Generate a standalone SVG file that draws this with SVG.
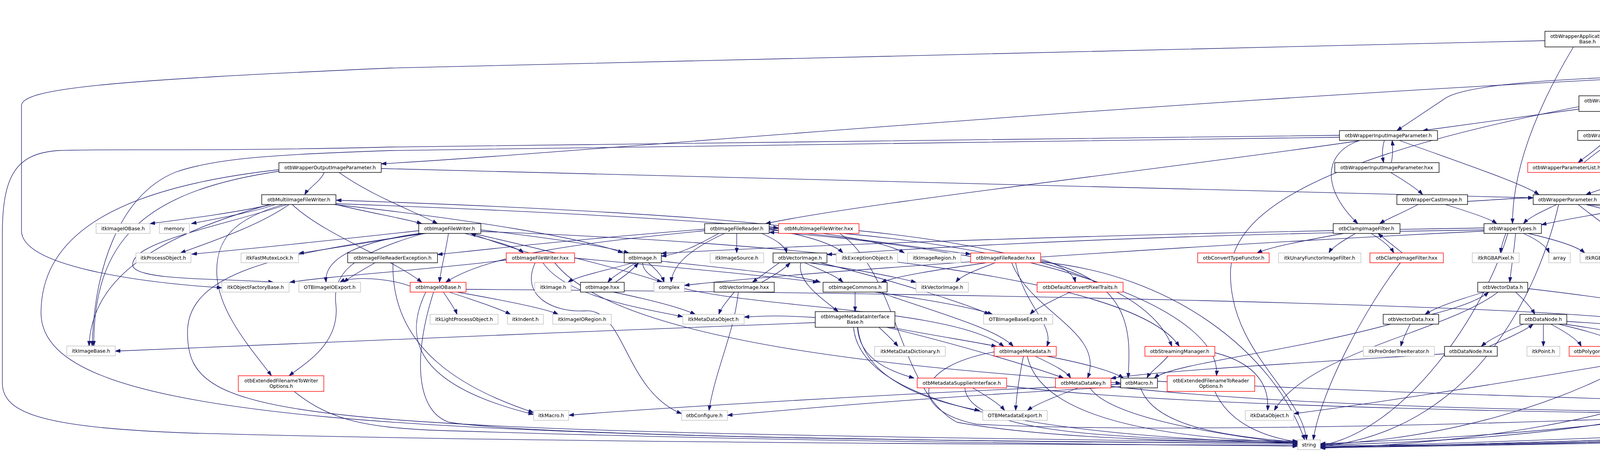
<svg xmlns="http://www.w3.org/2000/svg" width="5807" height="1156" viewBox="0 0 5807 1156">
<defs>
<marker id="a" markerUnits="userSpaceOnUse" markerWidth="14" markerHeight="10" refX="13" refY="4.5" orient="auto"><path d="M0,0 L13,4.5 L0,9 z" fill="#191970" stroke="#191970" stroke-width="1"/></marker>
<style>
.nd rect{fill:#fff;stroke-width:1.4}
.k rect{stroke:#000}
.g rect{stroke:#bfbfbf}
.r rect{stroke:#ff0000}
#n_root rect{fill:#bfbfbf;stroke:#000}
.nd text{font-family:"DejaVu Sans","Liberation Sans",sans-serif;font-size:12.6px;text-anchor:middle;fill:#000}
#edges path{fill:none;stroke:#191970;stroke-width:1.3;marker-end:url(#a)}
</style>
</defs>
<rect width="5807" height="1156" fill="#fff"/>
<g id="edges">
<path d="M5540,20 C5000,45 4600,70 4173,92"/>
<path d="M5672,31 C5672,60 5732,60 5736,88"/>
<path d="M5654,31 L5654,880 C5654,1000 5300,1090 4800,1110 C4200,1130 3700,1143 3380,1143"/>
<path d="M4160,120 C4300,140 4420,158 4505,170"/>
<path d="M3955,104 L1000,174 C300,205 55,225 55,270 L55,590 C55,680 350,722 568,736"/>
<path d="M4028,120 C3920,300 3872,450 3872,572"/>
<path d="M4545,195 C4420,215 4320,232 4242,245"/>
<path d="M4600,195 C4620,220 4640,235 4652,252"/>
<path d="M4630,195 C4700,220 4760,236 4785,252"/>
<path d="M4655,195 C4760,215 4850,232 4893,244"/>
<path d="M4676,184 C4900,200 5080,230 5140,252"/>
<path d="M5165,252 C5080,225 4900,200 4677,192"/>
<path d="M4676,180 C5000,190 5300,220 5372,252"/>
<path d="M4578,195 C4580,260 4595,300 4598,334"/>
<path d="M4565,195 C4500,300 4560,420 4705,498"/>
<path d="M4555,195 C4460,300 4445,450 4444,572"/>
<path d="M4493,188 C4000,196 3760,215 3702,250 L3576,334"/>
<path d="M4493,185 C3000,250 1500,390 976,419"/>
<path d="M4625,195 C4680,290 4900,370 5150,416"/>
<path d="M4676,178 C5300,192 5590,220 5590,340 L5590,720 C5590,800 5555,850 5545,886"/>
<path d="M4676,176 C5400,186 5704,240 5704,420 L5704,890 C5704,980 5640,1010 5628,1050"/>
<path d="M4500,195 C3600,330 3150,480 3150,700 C3150,900 3330,1000 3345,1125"/>
<path d="M4140,285 L4140,334"/>
<path d="M4042,279 L3642,334"/>
<path d="M3544,359 C3538,380 3538,395 3542,416"/>
<path d="M3562,416 C3566,395 3566,380 3564,359"/>
<path d="M3479,360 C3390,390 3380,480 3476,572"/>
<path d="M3582,359 C3750,420 3900,470 3940,498"/>
<path d="M3480,360 C3000,430 2200,520 1960,572"/>
<path d="M3429,346 L1000,376 C500,388 300,380 150,385 C40,392 6,450 6,600 L6,980 C6,1060 120,1095 500,1108 C1500,1135 3000,1138 3322,1138"/>
<path d="M3429,351 L1000,385 C700,395 550,405 450,440 C300,500 240,700 236,885"/>
<path d="M4110,359 C4090,380 4060,400 4040,416"/>
<path d="M4055,416 C4075,398 4105,378 4130,359"/>
<path d="M4165,359 C4190,380 4215,395 4225,408"/>
<path d="M4225,359 C4400,395 4440,440 4340,498"/>
<path d="M4210,448 C4150,470 4090,485 4060,498"/>
<path d="M4290,448 C4300,465 4308,480 4310,498"/>
<path d="M830,441 C820,465 790,480 780,498"/>
<path d="M868,441 C950,500 1060,540 1120,572"/>
<path d="M976,431 C2000,455 3000,485 3925,506"/>
<path d="M714,438 C360,490 240,620 240,885"/>
<path d="M714,434 C300,480 105,600 105,800 C105,1080 1000,1120 3322,1134"/>
<path d="M695,523 C600,545 460,562 384,572"/>
<path d="M705,523 C640,545 540,562 490,572"/>
<path d="M740,523 C660,580 520,625 462,647"/>
<path d="M860,521 C1400,540 1800,565 1993,583"/>
<path d="M1993,577 C1800,555 1400,530 861,512"/>
<path d="M748,523 C830,600 1000,660 1080,722"/>
<path d="M725,523 C600,560 552,610 555,700 C558,800 650,900 695,961"/>
<path d="M735,523 C560,580 330,620 340,680 C350,720 600,712 700,722"/>
<path d="M690,523 C420,600 235,700 228,885"/>
<path d="M860,523 C950,545 1040,560 1080,572"/>
<path d="M855,523 C1200,560 1500,610 1595,647"/>
<path d="M1190,597 C1260,615 1320,630 1340,647"/>
<path d="M1355,647 C1300,630 1240,610 1205,597"/>
<path d="M1148,597 C1140,650 1128,690 1125,722"/>
<path d="M1072,590 C800,620 600,640 491,650"/>
<path d="M1080,597 C950,620 850,635 765,648"/>
<path d="M1075,597 C870,625 830,680 835,722"/>
<path d="M1231,588 C1400,608 1550,630 1610,647"/>
<path d="M1210,597 C1400,640 1600,690 1695,722"/>
<path d="M1085,597 C900,650 850,700 860,780 C870,880 780,930 740,961"/>
<path d="M1090,597 C700,650 480,700 480,850 C480,1080 700,1100 3322,1132"/>
<path d="M1231,592 C2000,620 2900,700 3019,886"/>
<path d="M1969,588 C2200,608 2400,640 2485,650"/>
<path d="M2485,656 C2300,624 2100,600 1969,594"/>
<path d="M1886,597 L1886,647"/>
<path d="M1840,597 C1780,630 1740,650 1693,655"/>
<path d="M1804,586 C1500,610 1300,632 1120,651"/>
<path d="M1804,590 C1500,620 1250,650 1141,722"/>
<path d="M1855,597 C1760,640 1722,680 1718,722"/>
<path d="M1969,585 C2050,600 2130,620 2158,647"/>
<path d="M1969,580 C2150,600 2270,620 2315,647"/>
<path d="M1969,584 C2700,620 3130,800 3114,961"/>
<path d="M1950,597 C1990,615 2010,630 2014,647"/>
<path d="M2199,590 C2700,640 2950,750 3000,886"/>
<path d="M2150,597 C2300,700 2300,1000 2450,1080 C2700,1125 3100,1130 3322,1131"/>
<path d="M2525,672 C2400,690 2300,705 2256,722"/>
<path d="M2548,672 C2500,690 2460,705 2447,722"/>
<path d="M2600,672 C2620,780 2700,830 2680,886"/>
<path d="M2590,672 C2640,800 2830,850 2784,967"/>
<path d="M2664,662 C2720,680 2748,700 2753,722"/>
<path d="M2664,666 C2900,720 2895,850 2888,967"/>
<path d="M2664,670 C3000,700 3260,900 3340,1125"/>
<path d="M1620,672 C1560,690 1480,705 1454,722"/>
<path d="M1628,672 C1600,690 1570,705 1556,722"/>
<path d="M1575,722 C1600,705 1620,690 1634,672"/>
<path d="M1660,672 C1680,690 1695,705 1700,722"/>
<path d="M1693,668 C1900,690 2050,705 2100,722"/>
<path d="M1645,672 C1650,800 2400,760 2570,886"/>
<path d="M1570,747 C1680,770 1750,790 1780,804"/>
<path d="M2072,672 C2200,690 2300,710 2345,722"/>
<path d="M1995,672 C1970,690 1950,705 1926,722"/>
<path d="M1950,722 C1980,705 2005,690 2023,672"/>
<path d="M2060,672 C2100,690 2140,705 2158,722"/>
<path d="M2050,672 C2040,720 2100,760 2146,797"/>
<path d="M2100,672 C2300,720 2480,780 2533,804"/>
<path d="M1880,747 C1860,770 1845,790 1840,804"/>
<path d="M1890,747 C1880,850 1830,950 1815,1050"/>
<path d="M2189,747 L2189,797"/>
<path d="M2240,747 C2400,770 2500,790 2541,804"/>
<path d="M2250,747 C2400,800 2550,840 2594,886"/>
<path d="M2250,837 C2275,860 2290,875 2299,886"/>
<path d="M2280,837 C2400,860 2500,875 2551,886"/>
<path d="M2195,837 C2200,920 2280,950 2340,967"/>
<path d="M2270,837 C2450,880 2650,940 2723,967"/>
<path d="M2196,837 C2210,980 2400,1030 2508,1050"/>
<path d="M2185,837 C2200,1000 2500,1110 3322,1134"/>
<path d="M2087,825 C1500,850 800,872 295,898"/>
<path d="M2087,812 C2000,806 1950,808 1905,811"/>
<path d="M2650,911 C2700,935 2730,950 2741,967"/>
<path d="M2680,911 C2780,930 2850,950 2876,967"/>
<path d="M2620,911 C2610,960 2602,1010 2600,1050"/>
<path d="M2630,911 C2660,1050 2900,1120 3322,1131"/>
<path d="M2545,900 C2330,940 2330,1050 2500,1085 C3000,1110 4000,1080 4355,1062"/>
<path d="M2490,992 C2530,1015 2560,1035 2572,1050"/>
<path d="M2470,992 C2480,1100 2800,1125 3322,1128"/>
<path d="M2577,987 C3000,1040 4000,1055 4355,1058"/>
<path d="M2760,992 C2700,1015 2650,1035 2630,1050"/>
<path d="M2790,992 C2850,1080 3200,1120 3322,1136"/>
<path d="M2844,988 C3300,1040 4000,1050 4355,1055"/>
<path d="M2869,983 C2200,1010 1600,1050 1456,1062"/>
<path d="M2869,989 C2300,1020 1950,1055 1862,1062"/>
<path d="M2920,992 C2950,1080 3100,1115 3322,1130"/>
<path d="M2963,975 C3800,1020 5000,1040 5551,1062"/>
<path d="M2990,911 C2970,935 2945,950 2936,967"/>
<path d="M3110,902 C3220,930 3250,990 3245,1050"/>
<path d="M3110,1001 C3150,1090 3250,1120 3322,1130"/>
<path d="M753,1001 C850,1080 950,1092 1100,1100 C2000,1130 3000,1138 3322,1141"/>
<path d="M960,672 C930,690 900,705 880,722"/>
<path d="M1006,672 C1000,900 1200,1000 1366,1055"/>
<path d="M1135,747 C1150,770 1165,790 1170,804"/>
<path d="M1150,747 C1220,770 1280,790 1307,804"/>
<path d="M1170,747 C1300,770 1400,790 1429,804"/>
<path d="M1110,747 C1060,900 1060,1050 1150,1080 C1400,1120 2800,1132 3322,1134"/>
<path d="M1090,747 C1040,850 1040,980 1366,1060"/>
<path d="M1193,740 C2500,750 3900,780 4200,820 C4420,860 4400,950 4395,1050"/>
<path d="M1050,732 C1000,712 900,705 870,722"/>
<path d="M1370,672 C1330,760 1420,800 1500,795 C1600,790 1600,1000 1745,1058"/>
<path d="M1390,672 C1450,760 1650,790 1748,810"/>
<path d="M1471,660 C1800,690 2000,710 2094,722"/>
<path d="M1420,672 C1600,900 2500,950 2869,980"/>
<path d="M1296,665 C1100,690 850,705 742,722"/>
<path d="M2740,747 C2690,770 2650,790 2637,804"/>
<path d="M3440,597 C3340,615 3250,632 3218,647"/>
<path d="M3470,597 C3440,615 3410,632 3402,647"/>
<path d="M3510,597 C3540,615 3560,632 3568,647"/>
<path d="M3590,647 C3570,630 3545,612 3528,597"/>
<path d="M3585,672 C3500,780 3380,1000 3362,1125"/>
<path d="M3900,597 C3940,615 3960,632 3966,647"/>
<path d="M3912,597 C3990,615 4040,632 4057,647"/>
<path d="M3855,597 C3848,615 3843,632 3841,647"/>
<path d="M3880,597 C3875,650 3868,690 3865,722"/>
<path d="M3799,583 C3000,595 2200,620 1693,648"/>
<path d="M3799,588 C3000,600 2500,625 2117,651"/>
<path d="M3799,591 C3000,630 2000,700 1752,730"/>
<path d="M3860,597 C3800,800 3600,1100 3380,1140"/>
<path d="M3800,747 C3720,770 3670,790 3648,804"/>
<path d="M3665,804 C3740,785 3790,765 3811,747"/>
<path d="M3880,747 C3905,770 3922,790 3929,804"/>
<path d="M3911,738 C4100,760 4270,785 4325,804"/>
<path d="M3835,747 C3700,850 3350,900 3262,1050"/>
<path d="M3610,829 C3600,850 3590,870 3586,886"/>
<path d="M3560,829 C3300,900 3000,930 2955,967"/>
<path d="M3900,829 C3850,850 3810,870 3792,886"/>
<path d="M3812,886 C3860,865 3905,845 3925,829"/>
<path d="M3951,829 L3951,886"/>
<path d="M3970,829 C4010,850 4040,870 4048,886"/>
<path d="M3990,829 C4080,850 4140,870 4159,886"/>
<path d="M4005,829 C4150,850 4250,870 4279,886"/>
<path d="M4011,822 C4300,840 4550,870 4628,890"/>
<path d="M3698,905 C3300,930 2950,950 2844,968"/>
<path d="M4281,905 C3800,990 3450,1040 3312,1058"/>
<path d="M4370,911 C4420,935 4450,950 4462,967"/>
<path d="M4345,911 C4360,970 4375,1010 4379,1050"/>
<path d="M4690,911 C4600,935 4550,950 4532,967"/>
<path d="M4700,911 C4640,1000 4500,1050 4417,1060"/>
<path d="M4720,911 C4650,1050 4000,1110 3380,1135"/>
<path d="M4330,523 C4380,540 4405,555 4414,572"/>
<path d="M4240,523 C4100,545 4000,562 3946,575"/>
<path d="M4420,515 C4600,560 4600,700 4560,900 C4500,1080 3800,1130 3380,1138"/>
<path d="M3985,523 C3950,540 3915,555 3900,572"/>
<path d="M4060,523 C4250,540 4350,555 4390,572"/>
<path d="M4060,523 C4200,560 4850,700 4945,850 C5000,950 5060,1000 5070,1050"/>
<path d="M3990,523 C3950,700 3800,1100 3380,1142"/>
<path d="M4040,523 C4200,650 4450,800 4480,967"/>
<path d="M4700,523 C4620,540 4550,555 4520,572"/>
<path d="M4800,523 C4840,540 4870,555 4880,572"/>
<path d="M4740,523 C4720,800 4600,1000 4417,1052"/>
<path d="M4760,523 C4780,900 4200,1120 3380,1146"/>
<path d="M4730,523 C4650,700 4520,900 4505,967"/>
<path d="M5108,432 C4700,460 4300,490 4101,504"/>
<path d="M5210,441 C5180,700 5130,900 5093,1050"/>
<path d="M5222,441 C5225,800 5200,1000 4800,1100 C4300,1130 3700,1140 3380,1140"/>
<path d="M5195,441 C5130,600 4800,900 4562,975"/>
<path d="M5250,359 C5240,385 5232,400 5227,416"/>
<path d="M5282,359 C5360,420 5362,500 5362,700 L5362,960 C5362,1040 5000,1100 3380,1143"/>
<path d="M5420,277 C5360,300 5310,320 5294,334"/>
<path d="M5442,277 C5420,400 5412,500 5412,700 L5412,960 C5412,1060 5000,1110 3380,1145"/>
<path d="M4620,359 C4620,700 4450,900 4400,1050"/>
<path d="M4600,359 C4600,800 4000,1110 3380,1137"/>
<path d="M3560,441 C3600,465 3630,485 3642,498"/>
<path d="M3630,523 C3590,545 3550,560 3532,572"/>
<path d="M3700,523 C3770,545 3815,560 3832,572"/>
<path d="M3757,515 C3850,510 3880,506 3925,506"/>
<path d="M5500,911 C5420,935 5360,955 5332,967"/>
<path d="M5533,911 L5533,967"/>
<path d="M5545,911 C5600,1000 5690,1080 5707,1125"/>
<path d="M5525,911 C5495,960 5495,1020 5480,1060 C5400,1110 4500,1130 3380,1145"/>
<path d="M5575,1075 C5520,1095 5480,1110 5466,1125"/>
<path d="M5595,1075 C5585,1095 5578,1110 5576,1125"/>
<path d="M5620,1075 C5660,1095 5685,1110 5692,1125"/>
<path d="M5551,1071 C5000,1100 4000,1130 3380,1146"/>
</g>
<g id="n_root" class="nd k"><rect x="5540" y="6" width="228" height="25"/><text x="5654" y="23">otbWrapperApplicationFactory.h</text></g>
<g id="n_itkVersion" class="nd g"><rect x="5692" y="88" width="98" height="25"/><text x="5741" y="105">itkVersion.h</text></g>
<g id="n_appFactoryBase" class="nd k"><rect x="3955" y="80" width="218" height="40"/><text x="4064" y="96.5">otbWrapperApplicationFactory<tspan x="4064" y="111">Base.h</tspan></text></g>
<g id="n_app" class="nd k"><rect x="4493" y="170" width="183" height="25"/><text x="4584" y="187">otbWrapperApplication.h</text></g>
<g id="n_inImgList" class="nd k"><rect x="4042" y="245" width="195" height="40"/><text x="4140" y="261.5">otbWrapperInputImageList<tspan x="4140" y="276">Parameter.h</tspan></text></g>
<g id="n_set" class="nd g"><rect x="4647" y="252" width="42" height="25"/><text x="4668" y="269">set</text></g>
<g id="n_macros" class="nd k"><rect x="4713" y="252" width="158" height="25"/><text x="4792" y="269">otbWrapperMacros.h</text></g>
<g id="n_mersenne" class="nd g"><rect x="4894" y="245" width="203" height="40"/><text x="4996" y="261.5">itkMersenneTwisterRandom<tspan x="4996" y="276">VariateGenerator.h</tspan></text></g>
<g id="n_appHxx" class="nd k"><rect x="5121" y="252" width="200" height="25"/><text x="5221" y="269">otbWrapperApplication.hxx</text></g>
<g id="n_field" class="nd k"><rect x="5345" y="252" width="206" height="25"/><text x="5448" y="269">otbWrapperFieldParameter.h</text></g>
<g id="n_inImg" class="nd k"><rect x="3429" y="334" width="251" height="25"/><text x="3554" y="351">otbWrapperInputImageParameter.h</text></g>
<g id="n_paramList" class="nd k"><rect x="4039" y="334" width="201" height="25"/><text x="4140" y="351">otbWrapperParameterList.h</text></g>
<g id="n_tags" class="nd k"><rect x="4545" y="334" width="139" height="25"/><text x="4614" y="351">otbWrapperTags.h</text></g>
<g id="n_listView" class="nd k"><rect x="5143" y="334" width="231" height="25"/><text x="5258" y="351">otbWrapperListViewParameter.h</text></g>
<g id="n_outImg" class="nd k"><rect x="714" y="416" width="262" height="25"/><text x="845" y="433">otbWrapperOutputImageParameter.h</text></g>
<g id="n_inImgHxx" class="nd k"><rect x="3417" y="416" width="267" height="25"/><text x="3550" y="433">otbWrapperInputImageParameter.hxx</text></g>
<g id="n_paramListHxx" class="nd r"><rect x="3911" y="416" width="215" height="25"/><text x="4018" y="433">otbWrapperParameterList.hxx</text></g>
<g id="n_absParamList" class="nd k"><rect x="4150" y="408" width="219" height="40"/><text x="4260" y="424.5">otbWrapperAbstractParameter<tspan x="4260" y="439">List.h</tspan></text></g>
<g id="n_paramGroup" class="nd k"><rect x="5108" y="416" width="216" height="25"/><text x="5216" y="433">otbWrapperParameterGroup.h</text></g>
<g id="n_multiWriter" class="nd k"><rect x="670" y="498" width="190" height="25"/><text x="765" y="515">otbMultiImageFileWriter.h</text></g>
<g id="n_castImage" class="nd k"><rect x="3576" y="498" width="181" height="25"/><text x="3666" y="515">otbWrapperCastImage.h</text></g>
<g id="n_param" class="nd k"><rect x="3925" y="498" width="176" height="25"/><text x="4013" y="515">otbWrapperParameter.h</text></g>
<g id="n_strList" class="nd k"><rect x="4191" y="498" width="229" height="25"/><text x="4305" y="515">otbWrapperStringListInterface.h</text></g>
<g id="n_docEx" class="nd k"><rect x="4615" y="498" width="251" height="25"/><text x="4740" y="515">otbWrapperDocExampleStructure.h</text></g>
<g id="n_itkImageIOBase" class="nd g"><rect x="246" y="572" width="138" height="25"/><text x="315" y="589">itkImageIOBase.h</text></g>
<g id="n_memory" class="nd g"><rect x="408" y="572" width="77" height="25"/><text x="446" y="589">memory</text></g>
<g id="n_imgWriter" class="nd k"><rect x="1072" y="572" width="159" height="25"/><text x="1151" y="589">otbImageFileWriter.h</text></g>
<g id="n_imgReader" class="nd k"><rect x="1804" y="572" width="165" height="25"/><text x="1886" y="589">otbImageFileReader.h</text></g>
<g id="n_multiWriterHxx" class="nd r"><rect x="1993" y="572" width="206" height="25"/><text x="2096" y="589">otbMultiImageFileWriter.hxx</text></g>
<g id="n_clamp" class="nd k"><rect x="3413" y="572" width="171" height="25"/><text x="3498" y="589">otbClampImageFilter.h</text></g>
<g id="n_types" class="nd k"><rect x="3799" y="572" width="147" height="25"/><text x="3872" y="589">otbWrapperTypes.h</text></g>
<g id="n_appEngExport" class="nd g"><rect x="4333" y="572" width="219" height="25"/><text x="4442" y="589">OTBApplicationEngineExport.h</text></g>
<g id="n_fixedArray" class="nd g"><rect x="4863" y="572" width="118" height="25"/><text x="4922" y="589">itkFixedArray.h</text></g>
<g id="n_processObject" class="nd g"><rect x="348" y="647" width="141" height="25"/><text x="418" y="664">itkProcessObject.h</text></g>
<g id="n_fastMutex" class="nd g"><rect x="617" y="647" width="147" height="25"/><text x="690" y="664">itkFastMutexLock.h</text></g>
<g id="n_readerExc" class="nd k"><rect x="890" y="647" width="230" height="25"/><text x="1005" y="664">otbImageFileReaderException.h</text></g>
<g id="n_writerHxx" class="nd r"><rect x="1296" y="647" width="175" height="25"/><text x="1383" y="664">otbImageFileWriter.hxx</text></g>
<g id="n_otbImage" class="nd k"><rect x="1598" y="647" width="95" height="25"/><text x="1645" y="664">otbImage.h</text></g>
<g id="n_imageSource" class="nd g"><rect x="1818" y="647" width="137" height="25"/><text x="1886" y="664">itkImageSource.h</text></g>
<g id="n_vectorImage" class="nd k"><rect x="1979" y="647" width="138" height="25"/><text x="2048" y="664">otbVectorImage.h</text></g>
<g id="n_exceptionObject" class="nd g"><rect x="2141" y="647" width="157" height="25"/><text x="2220" y="664">itkExceptionObject.h</text></g>
<g id="n_imageRegion" class="nd g"><rect x="2323" y="647" width="137" height="25"/><text x="2392" y="664">itkImageRegion.h</text></g>
<g id="n_readerHxx" class="nd r"><rect x="2485" y="647" width="179" height="25"/><text x="2574" y="664">otbImageFileReader.hxx</text></g>
<g id="n_convertType" class="nd r"><rect x="3066" y="647" width="183" height="25"/><text x="3158" y="664">otbConvertTypeFunctor.h</text></g>
<g id="n_unaryFunctor" class="nd g"><rect x="3273" y="647" width="211" height="25"/><text x="3378" y="664">itkUnaryFunctorImageFilter.h</text></g>
<g id="n_clampHxx" class="nd r"><rect x="3507" y="647" width="188" height="25"/><text x="3601" y="664">otbClampImageFilter.hxx</text></g>
<g id="n_rgba" class="nd g"><rect x="3769" y="647" width="120" height="25"/><text x="3829" y="664">itkRGBAPixel.h</text></g>
<g id="n_array" class="nd g"><rect x="3965" y="647" width="55" height="25"/><text x="3992" y="664">array</text></g>
<g id="n_rgb" class="nd g"><rect x="4045" y="647" width="110" height="25"/><text x="4100" y="664">itkRGBPixel.h</text></g>
<g id="n_objFactoryBase" class="nd g"><rect x="568" y="722" width="172" height="25"/><text x="654" y="739">itkObjectFactoryBase.h</text></g>
<g id="n_ioExport" class="nd g"><rect x="765" y="722" width="158" height="25"/><text x="844" y="739">OTBImageIOExport.h</text></g>
<g id="n_otbImageIOBase" class="nd r"><rect x="1050" y="722" width="143" height="25"/><text x="1122" y="739">otbImageIOBase.h</text></g>
<g id="n_itkImage" class="nd g"><rect x="1369" y="722" width="93" height="25"/><text x="1416" y="739">itkImage.h</text></g>
<g id="n_otbImageHxx" class="nd k"><rect x="1486" y="722" width="112" height="25"/><text x="1542" y="739">otbImage.hxx</text></g>
<g id="n_complex" class="nd g"><rect x="1674" y="722" width="78" height="25"/><text x="1713" y="739">complex</text></g>
<g id="n_vecImgHxx" class="nd k"><rect x="1828" y="722" width="154" height="25"/><text x="1905" y="739">otbVectorImage.hxx</text></g>
<g id="n_imgCommons" class="nd k"><rect x="2107" y="722" width="164" height="25"/><text x="2189" y="739">otbImageCommons.h</text></g>
<g id="n_itkVecImg" class="nd g"><rect x="2345" y="722" width="134" height="25"/><text x="2412" y="739">itkVectorImage.h</text></g>
<g id="n_defConv" class="nd r"><rect x="2655" y="722" width="220" height="25"/><text x="2765" y="739">otbDefaultConvertPixelTraits.h</text></g>
<g id="n_vectorData" class="nd k"><rect x="3783" y="722" width="128" height="25"/><text x="3847" y="739">otbVectorData.h</text></g>
<g id="n_lightPO" class="nd g"><rect x="1101" y="804" width="174" height="25"/><text x="1188" y="821">itkLightProcessObject.h</text></g>
<g id="n_indent" class="nd g"><rect x="1299" y="804" width="92" height="25"/><text x="1345" y="821">itkIndent.h</text></g>
<g id="n_ioRegion" class="nd g"><rect x="1415" y="804" width="150" height="25"/><text x="1490" y="821">itkImageIORegion.h</text></g>
<g id="n_metaDataObject" class="nd g"><rect x="1748" y="804" width="157" height="25"/><text x="1826" y="821">itkMetaDataObject.h</text></g>
<g id="n_imiBase" class="nd k"><rect x="2087" y="797" width="204" height="40"/><text x="2189" y="813.5">otbImageMetadataInterface<tspan x="2189" y="828">Base.h</tspan></text></g>
<g id="n_imgBaseExport" class="nd g"><rect x="2518" y="804" width="177" height="25"/><text x="2606" y="821">OTBImageBaseExport.h</text></g>
<g id="n_vecDataHxx" class="nd k"><rect x="3541" y="804" width="142" height="25"/><text x="3612" y="821">otbVectorData.hxx</text></g>
<g id="n_dataNode" class="nd k"><rect x="3891" y="804" width="120" height="25"/><text x="3951" y="821">otbDataNode.h</text></g>
<g id="n_treeContainer" class="nd g"><rect x="4311" y="804" width="140" height="25"/><text x="4381" y="821">itkTreeContainer.h</text></g>
<g id="n_imageBase" class="nd g"><rect x="171" y="885" width="124" height="25"/><text x="233" y="902">itkImageBase.h</text></g>
<g id="n_mdDict" class="nd g"><rect x="2239" y="886" width="181" height="25"/><text x="2330" y="903">itkMetaDataDictionary.h</text></g>
<g id="n_imgMetadata" class="nd r"><rect x="2545" y="886" width="159" height="25"/><text x="2624" y="903">otbImageMetadata.h</text></g>
<g id="n_streaming" class="nd r"><rect x="2931" y="886" width="179" height="25"/><text x="3020" y="903">otbStreamingManager.h</text></g>
<g id="n_preOrder" class="nd g"><rect x="3490" y="886" width="182" height="25"/><text x="3581" y="903">itkPreOrderTreeIterator.h</text></g>
<g id="n_dataNodeHxx" class="nd k"><rect x="3698" y="886" width="135" height="25"/><text x="3765" y="903">otbDataNode.hxx</text></g>
<g id="n_point" class="nd g"><rect x="3909" y="886" width="84" height="25"/><text x="3951" y="903">itkPoint.h</text></g>
<g id="n_polygon" class="nd r"><rect x="4017" y="886" width="107" height="25"/><text x="4070" y="903">otbPolygon.h</text></g>
<g id="n_ogrsf" class="nd g"><rect x="4148" y="886" width="109" height="25"/><text x="4202" y="903">ogrsf_frmts.h</text></g>
<g id="n_objectList" class="nd r"><rect x="4281" y="886" width="120" height="25"/><text x="4341" y="903">otbObjectList.h</text></g>
<g id="n_vdKwl" class="nd r"><rect x="4628" y="886" width="203" height="25"/><text x="4730" y="903">otbVectorDataKeywordlist.h</text></g>
<g id="n_stopwatch" class="nd k"><rect x="5472" y="886" width="122" height="25"/><text x="5533" y="903">otbStopwatch.h</text></g>
<g id="n_extWriter" class="nd r"><rect x="610" y="961" width="219" height="40"/><text x="720" y="977.5">otbExtendedFilenameToWriter<tspan x="720" y="992">Options.h</tspan></text></g>
<g id="n_mdSupplier" class="nd r"><rect x="2348" y="967" width="229" height="25"/><text x="2462" y="984">otbMetadataSupplierInterface.h</text></g>
<g id="n_mdKey" class="nd r"><rect x="2702" y="967" width="142" height="25"/><text x="2773" y="984">otbMetaDataKey.h</text></g>
<g id="n_otbMacro" class="nd k"><rect x="2869" y="967" width="94" height="25"/><text x="2916" y="984">otbMacro.h</text></g>
<g id="n_extReader" class="nd r"><rect x="2988" y="961" width="224" height="40"/><text x="3100" y="977.5">otbExtendedFilenameToReader<tspan x="3100" y="992">Options.h</tspan></text></g>
<g id="n_objFactory" class="nd g"><rect x="4423" y="967" width="139" height="25"/><text x="4492" y="984">itkObjectFactory.h</text></g>
<g id="n_iosfwd" class="nd g"><rect x="5260" y="967" width="64" height="25"/><text x="5292" y="984">iosfwd</text></g>
<g id="n_cstdint" class="nd g"><rect x="5500" y="967" width="66" height="25"/><text x="5533" y="984">cstdint</text></g>
<g id="n_itkMacro" class="nd g"><rect x="1366" y="1050" width="90" height="25"/><text x="1411" y="1067">itkMacro.h</text></g>
<g id="n_otbConfigure" class="nd g"><rect x="1745" y="1050" width="117" height="25"/><text x="1803" y="1067">otbConfigure.h</text></g>
<g id="n_mdExport" class="nd g"><rect x="2516" y="1050" width="165" height="25"/><text x="2598" y="1067">OTBMetadataExport.h</text></g>
<g id="n_dataObject" class="nd g"><rect x="3188" y="1050" width="124" height="25"/><text x="3250" y="1067">itkDataObject.h</text></g>
<g id="n_vector" class="nd g"><rect x="4355" y="1050" width="62" height="25"/><text x="4386" y="1067">vector</text></g>
<g id="n_itkObject" class="nd g"><rect x="5041" y="1050" width="93" height="25"/><text x="5087" y="1067">itkObject.h</text></g>
<g id="n_otbLogger" class="nd k"><rect x="5551" y="1050" width="98" height="25"/><text x="5600" y="1067">otbLogger.h</text></g>
<g id="n_string" class="nd g"><rect x="3322" y="1125" width="58" height="25"/><text x="3351" y="1142">string</text></g>
<g id="n_loggerBase" class="nd g"><rect x="5369" y="1125" width="126" height="25"/><text x="5432" y="1142">itkLoggerBase.h</text></g>
<g id="n_itkLogger" class="nd g"><rect x="5520" y="1125" width="94" height="25"/><text x="5567" y="1142">itkLogger.h</text></g>
<g id="n_commonExport" class="nd g"><rect x="5639" y="1125" width="162" height="25"/><text x="5720" y="1142">OTBCommonExport.h</text></g>
</svg>
